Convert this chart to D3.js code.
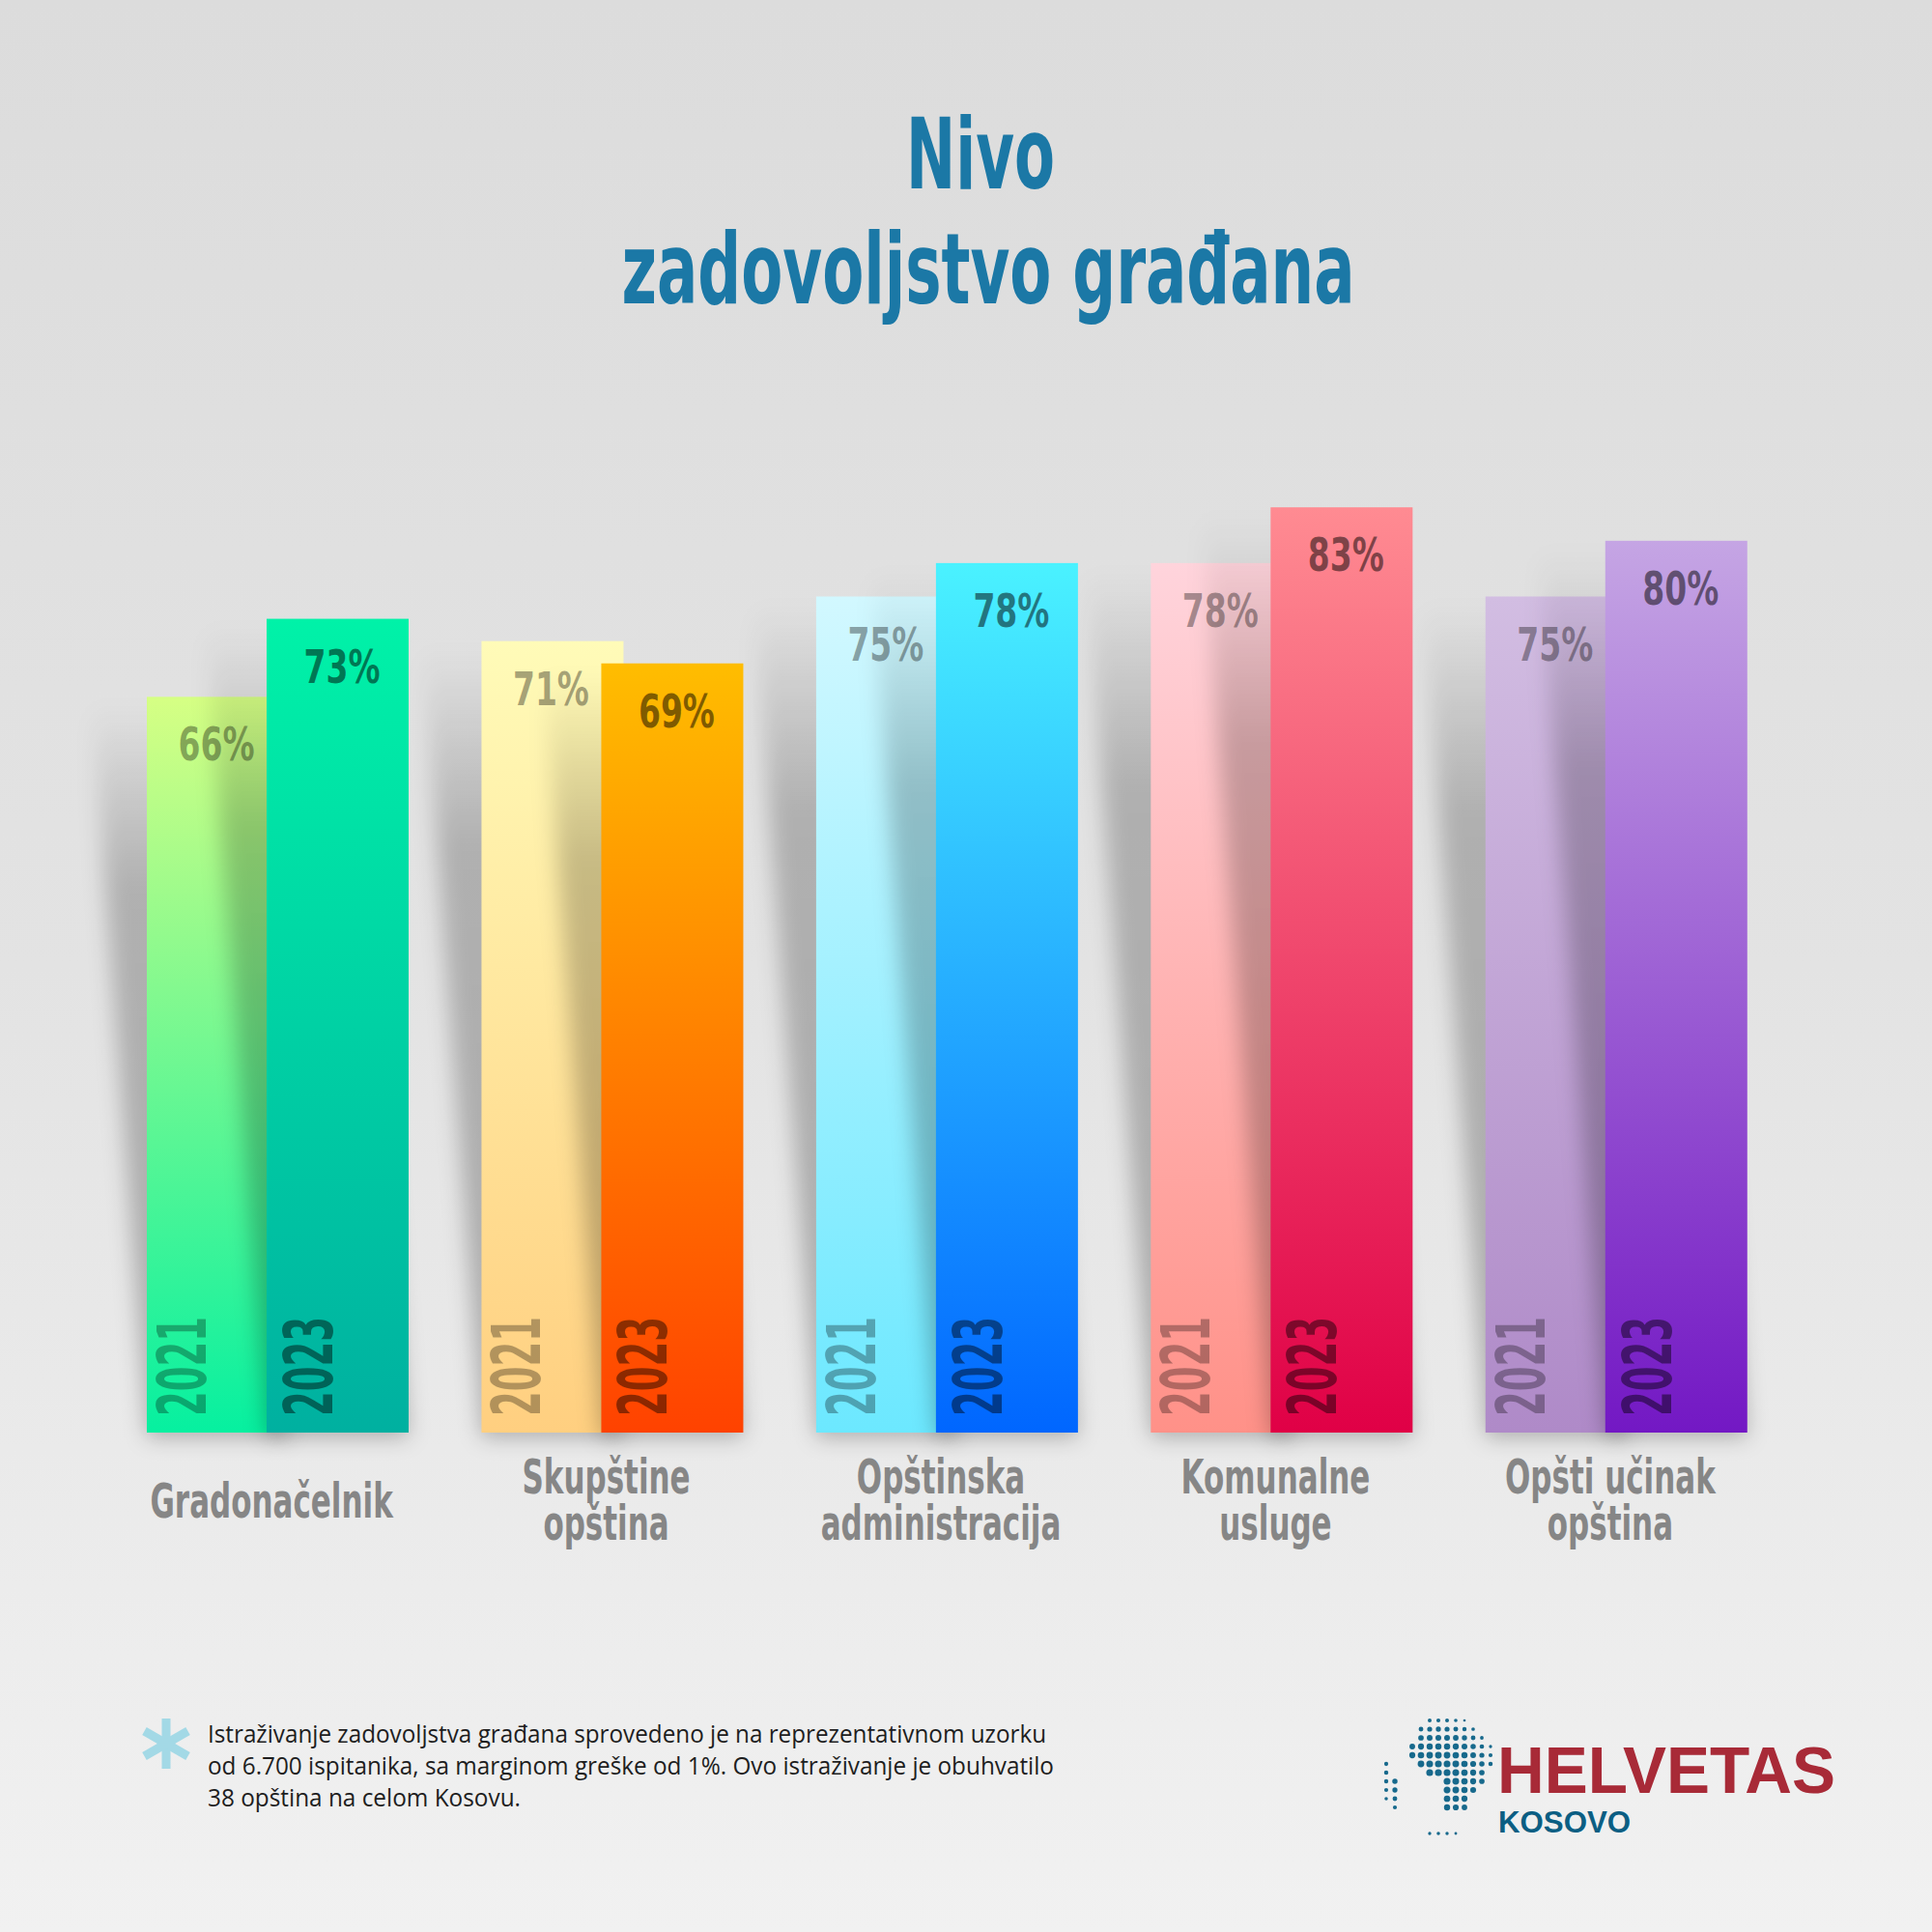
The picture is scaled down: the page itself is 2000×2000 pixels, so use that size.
<!DOCTYPE html>
<html>
<head>
<meta charset="utf-8">
<script src="https://cdn.jsdelivr.net/npm/d3@7"></script>
<style>
  body { margin: 0; background: #e4e4e4; }
  svg { display: block; }
</style>
</head>
<body>
<div id="chart"></div>
<script>
// data
const categories = ["Gradonačelnik", "Skupštine opština", "Opštinska administracija", "Komunalne usluge", "Opšti učinak opština"];
const labelLines = [["Gradonačelnik"], ["Skupštine", "opština"], ["Opštinska", "administracija"], ["Komunalne", "usluge"], ["Opšti učinak", "opština"]];
const years = ["2021", "2023"];
const values2021 = [66, 71, 75, 78, 75];
const values2023 = [73, 69, 78, 83, 80];

const titleLines = ["Nivo", "zadovoljstvo građana"];
const noteLines = [
  "Istraživanje zadovoljstva građana sprovedeno je na reprezentativnom uzorku",
  "od 6.700 ispitanika, sa marginom greške od 1%. Ovo istraživanje je obuhvatilo",
  "38 opština na celom Kosovu."
];

// bar colours, top -> bottom
const colors2021 = [["#d6ff84", "#06f0a0"], ["#fffbb8", "#ffcf80"], ["#d2f8ff", "#6ce8ff"], ["#ffd4dc", "#ff9188"], ["#d2bde2", "#af8ac8"]];
const colors2023 = [["#00f2a8", "#00b0a0"], ["#ffbd00", "#ff4200"], ["#4af2ff", "#0066ff"], ["#ff8b92", "#e00046"], ["#c5a5e4", "#7318c4"]];

const W = 2000, H = 2000;
const bottom = 1483, top100 = 329;
const barW = 147, offset = 124;

const svg = d3.select("#chart").append("svg")
  .attr("width", W).attr("height", H);

const defs = svg.append("defs");

// background
const bg = defs.append("linearGradient").attr("id", "bg")
  .attr("x1", 0).attr("y1", 0).attr("x2", 0).attr("y2", 1);
bg.append("stop").attr("offset", "0%").attr("stop-color", "#dcdcdc");
bg.append("stop").attr("offset", "50%").attr("stop-color", "#e3e3e3");
bg.append("stop").attr("offset", "100%").attr("stop-color", "#f1f1f1");
svg.append("rect").attr("width", W).attr("height", H).attr("fill", "url(#bg)");

defs.append("filter").attr("id", "blur")
  .attr("x", "-50%").attr("y", "-20%").attr("width", "200%").attr("height", "140%")
  .append("feGaussianBlur").attr("stdDeviation", 11);

const shadowGrad = defs.append("linearGradient").attr("id", "shadowGrad")
  .attr("x1", 0).attr("y1", 0).attr("x2", 0).attr("y2", 1);
shadowGrad.append("stop").attr("offset", "0%").attr("stop-color", "#000").attr("stop-opacity", 0);
shadowGrad.append("stop").attr("offset", "25%").attr("stop-color", "#000").attr("stop-opacity", 0.22);
shadowGrad.append("stop").attr("offset", "100%").attr("stop-color", "#000").attr("stop-opacity", 0.26);

// scales
const x0 = d3.scaleBand().domain(categories).range([152, 1808]).paddingInner(0.22).paddingOuter(0);
const x1 = d3.scalePoint().domain(years).range([0, offset]);
const y = d3.scaleLinear().domain([0, 100]).range([bottom, top100]);

// title
const title = svg.append("g").attr("fill", "#1b78a6")
  .attr("font-family", "'DejaVu Sans', sans-serif").attr("font-weight", "bold")
  .attr("font-size", 101).attr("text-anchor", "middle");
title.append("text").attr("x", 1015).attr("y", 195)
  .attr("textLength", 154).attr("lengthAdjust", "spacingAndGlyphs").text(titleLines[0]);
title.append("text").attr("x", 1023).attr("y", 314)
  .attr("textLength", 759).attr("lengthAdjust", "spacingAndGlyphs").text(titleLines[1]);

// rows: one per category & year
const rows = [];
categories.forEach((c, i) => {
  rows.push({ cat: c, i: i, year: "2021", value: values2021[i], colors: colors2021[i] });
  rows.push({ cat: c, i: i, year: "2023", value: values2023[i], colors: colors2023[i] });
});

rows.forEach((d, k) => {
  const g = defs.append("linearGradient").attr("id", "bar" + k)
    .attr("x1", 0).attr("y1", 0).attr("x2", 0).attr("y2", 1);
  g.append("stop").attr("offset", "0%").attr("stop-color", d.colors[0]);
  g.append("stop").attr("offset", "100%").attr("stop-color", d.colors[1]);
  d.grad = "url(#bar" + k + ")";
  d.x = x0(d.cat) + x1(d.year);
});

function shadowPoints(d) {
  const t = y(d.value), shift = 0.075 * (bottom - t);
  return [[d.x - shift, t + 8], [d.x + barW - shift, t + 8], [d.x + barW, bottom + 5], [d.x, bottom + 5]]
    .map(p => p.join(",")).join(" ");
}

const chart = svg.append("g");

years.forEach(yr => {
  const sel = rows.filter(r => r.year === yr);
  chart.append("g").selectAll("polygon").data(sel).enter().append("polygon")
    .attr("points", shadowPoints)
    .attr("fill", "url(#shadowGrad)")
    .attr("filter", "url(#blur)");
  chart.append("g").selectAll("rect").data(sel).enter().append("rect")
    .attr("x", d => d.x)
    .attr("y", d => y(d.value))
    .attr("width", barW)
    .attr("height", d => y(0) - y(d.value))
    .attr("fill", d => d.grad);
});

// value labels
const labelFont = "'DejaVu Sans', sans-serif";
chart.append("g").selectAll("text").data(rows).enter().append("text")
  .attr("x", d => d.x + (d.year === "2021" ? 72 : 78))
  .attr("y", d => y(d.value) + 66)
  .attr("text-anchor", "middle")
  .attr("font-family", labelFont).attr("font-weight", "bold").attr("font-size", 48)
  .attr("textLength", 79).attr("lengthAdjust", "spacingAndGlyphs")
  .attr("fill", "#000").attr("fill-opacity", d => d.year === "2021" ? 0.36 : 0.5)
  .text(d => d.value + "%");

// year labels inside the bars
chart.append("g").selectAll("text").data(rows).enter().append("text")
  .attr("transform", d => "translate(" + (d.x + (d.year === "2021" ? 61 : 68)) + "," + (bottom - 17) + ") rotate(-90)")
  .attr("font-family", labelFont).attr("font-weight", "bold").attr("font-size", 70)
  .attr("textLength", 103).attr("lengthAdjust", "spacingAndGlyphs")
  .attr("fill", "#000").attr("fill-opacity", d => d.year === "2021" ? 0.3 : 0.45)
  .text(d => d.year);

// category labels
const catG = svg.append("g").attr("fill", "#868686")
  .attr("font-family", labelFont).attr("font-weight", "bold").attr("font-size", 50)
  .attr("text-anchor", "middle");
categories.forEach((c, i) => {
  const cx = x0(c) + x0.bandwidth() / 2 - 6;
  const lines = labelLines[i];
  const y0 = lines.length === 1 ? 1571 : 1546;
  lines.forEach((ln, j) => {
    catG.append("text")
      .attr("transform", "translate(" + cx + "," + (y0 + j * 48) + ") scale(0.62,1)")
      .text(ln);
  });
});

// footnote
const ast = svg.append("g").attr("transform", "translate(172,1805)")
  .attr("stroke", "#a3d9e6").attr("stroke-width", 9);
[90, 30, -30].forEach(a => {
  const r = 26, rad = a * Math.PI / 180;
  ast.append("line")
    .attr("x1", -r * Math.cos(rad)).attr("y1", -r * Math.sin(rad))
    .attr("x2", r * Math.cos(rad)).attr("y2", r * Math.sin(rad));
});
const noteWidths = [868, 876, 324];
const note = svg.append("g").attr("fill", "#1e1e1e")
  .attr("font-family", "'Open Sans', sans-serif").attr("font-size", 26);
noteLines.forEach((ln, j) => {
  note.append("text").attr("x", 215).attr("y", 1804 + j * 33)
    .attr("textLength", noteWidths[j]).attr("lengthAdjust", "spacingAndGlyphs")
    .text(ln);
});

// logo
const logo = svg.append("g");
logo.append("text").attr("x", 1550).attr("y", 1856)
  .attr("font-family", "'Liberation Sans', Arial, sans-serif").attr("font-weight", "bold")
  .attr("font-size", 68).attr("fill", "#a82a37")
  .attr("textLength", 350).attr("lengthAdjust", "spacingAndGlyphs").text("HELVETAS");
logo.append("text").attr("x", 1551).attr("y", 1897)
  .attr("font-family", "'Liberation Sans', Arial, sans-serif").attr("font-weight", "bold")
  .attr("font-size", 32).attr("fill", "#0b5e83")
  .attr("textLength", 137).attr("lengthAdjust", "spacingAndGlyphs").text("KOSOVO");

// dotted globe
const gc = [1490, 1838], gR = 64;
const africa = [[1466, 1792], [1480, 1780], [1505, 1775], [1530, 1778], [1545, 1788], [1551, 1805], [1551, 1822], [1538, 1838], [1530, 1852], [1522, 1866], [1508, 1879], [1498, 1876], [1494, 1858], [1490, 1842], [1478, 1834], [1463, 1826], [1457, 1810]];
const westEdge = [[1428, 1824], [1438, 1824], [1447, 1850], [1447, 1880], [1438, 1878], [1428, 1852]];
const south = [[1476, 1891], [1522, 1889], [1522, 1901], [1476, 1902]];
const dots = [];
for (let gx = 1426; gx <= 1554; gx += 9) {
  for (let gy = 1772; gy <= 1904; gy += 9) {
    const dd = Math.hypot(gx - gc[0], gy - gc[1]) / gR;
    if (dd < 1 && (d3.polygonContains(africa, [gx, gy]) || d3.polygonContains(westEdge, [gx, gy]) || d3.polygonContains(south, [gx, gy]))) {
      dots.push([gx, gy, 0.8 + 2.8 * Math.sqrt(1 - dd * dd)]);
    }
  }
}
logo.append("g").selectAll("circle").data(dots).enter().append("circle")
  .attr("cx", d => d[0]).attr("cy", d => d[1])
  .attr("r", d => d[2])
  .attr("fill", "#17698c");
</script>
</body>
</html>
